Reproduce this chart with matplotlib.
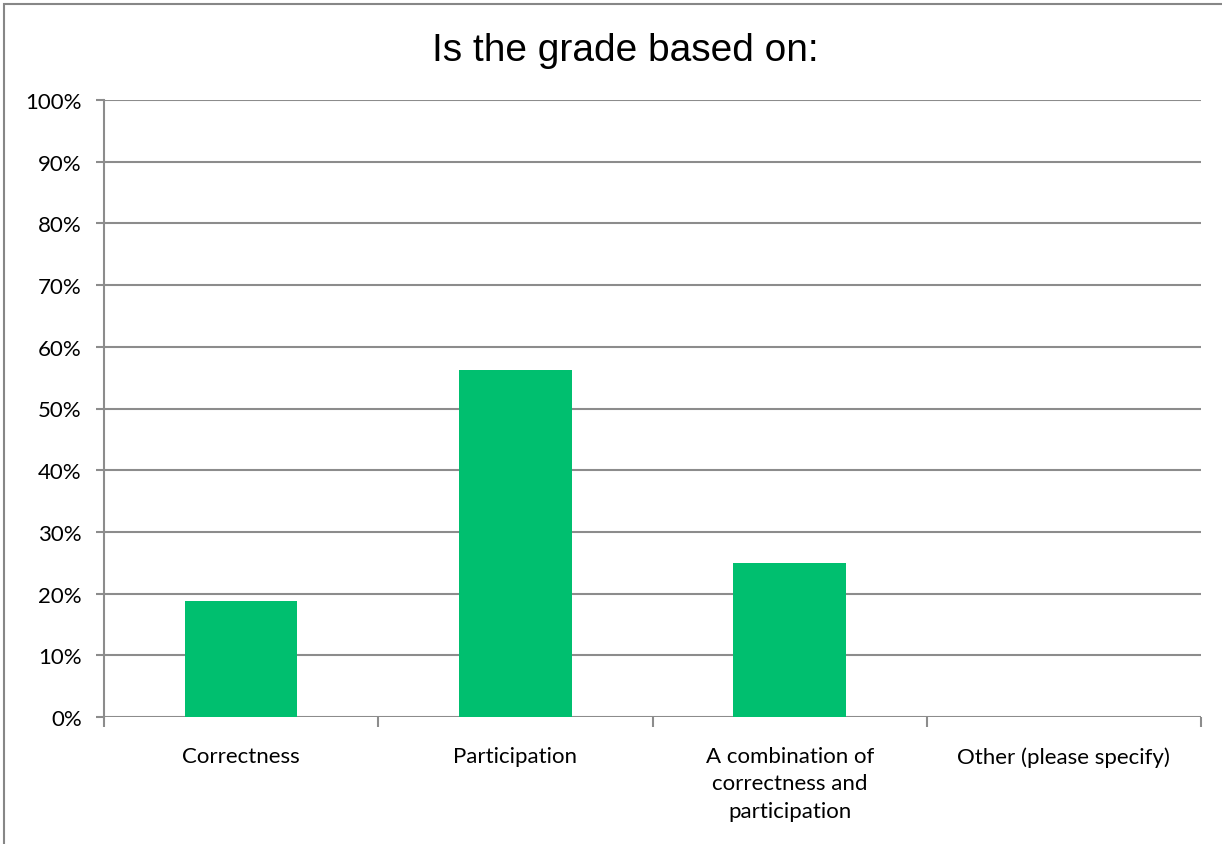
import matplotlib
matplotlib.use("Agg")
import matplotlib.pyplot as plt
from matplotlib.patches import Rectangle
from matplotlib.ticker import FixedLocator, PercentFormatter

categories = ["Correctness", "Participation",
              "A combination of\ncorrectness and\nparticipation",
              "Other (please specify)"]
values = [18.75, 56.25, 25.0, 0.0]
yticks = [0, 10, 20, 30, 40, 50, 60, 70, 80, 90, 100]
title = "Is the grade based on:"

W, H = 1222, 845
fig = plt.figure(figsize=(W / 100, H / 100), dpi=100)
fig.patch.set_facecolor("white")

# outer chart border (left/top visible)
fig.add_artist(Rectangle((3.5 / W, -0.01), 1.1, (H - 4.5) / H + 0.01,
                         transform=fig.transFigure, fill=False,
                         edgecolor="#878787", linewidth=1.5))

ax = fig.add_axes([104 / W, (H - 718) / H, (1201 - 104) / W, (718 - 101) / H])
x = list(range(len(categories)))
ax.bar(x, values, width=0.41, color="#00BF6F", zorder=3)
ax.set_xlim(-0.5, len(categories) - 0.5)
ax.set_ylim(0, 100)

ax.yaxis.set_major_locator(FixedLocator(yticks))
ax.yaxis.set_major_formatter(PercentFormatter(decimals=0))
ax.grid(axis="y", color="#8c8c8c", linewidth=1.5, zorder=0)
ax.set_axisbelow(True)

for s in ["top", "right", "bottom"]:
    ax.spines[s].set_visible(False)
ax.spines["left"].set_color("#8c8c8c")
ax.spines["left"].set_linewidth(1.5)

ax.tick_params(axis="y", length=6, width=1.5, color="#8c8c8c",
               labelsize=16, pad=10)
for lab in ax.get_yticklabels():
    lab.set_fontfamily("Lato")

# x: labels at centers (no ticks), tick marks at boundaries
ax.set_xticks(x)
ax.set_xticklabels(categories, fontfamily="Lato", fontsize=16,
                   linespacing=1.45, va="top")
ax.tick_params(axis="x", which="major", length=0, pad=21)
ax.set_xticks([i + 0.5 for i in range(-1, len(categories))], minor=True)
ax.tick_params(axis="x", which="minor", length=7, width=1.5, color="#8c8c8c")

fig.text(625 / W, (H - 51) / H, title,
         ha="center", va="center", fontsize=28, fontfamily="Liberation Sans")

fig.savefig("out.png", dpi=100, facecolor="white")
